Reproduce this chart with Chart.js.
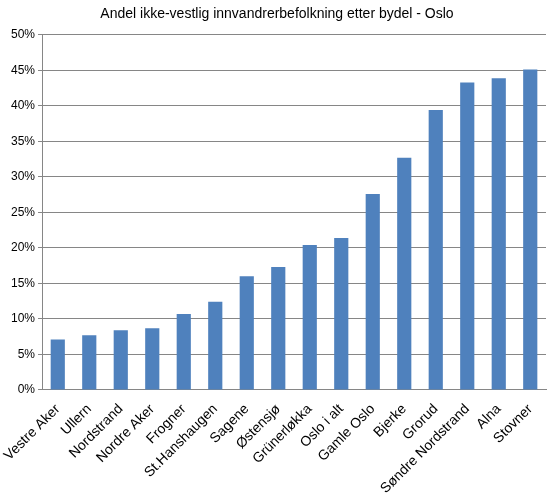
<!DOCTYPE html>
<html><head><meta charset="utf-8">
<script src="https://cdn.jsdelivr.net/npm/chart.js@4"></script>
<style>body{margin:0;background:#fff}#w{width:560px;height:500px}</style>
</head><body><div id="w"><canvas id="c"></canvas></div>
<script>
const categories = ["Vestre Aker","Ullern","Nordstrand","Nordre Aker","Frogner","St.Hanshaugen","Sagene","Østensjø","Grünerløkka","Oslo i alt","Gamle Oslo","Bjerke","Grorud","Søndre Nordstrand","Alna","Stovner"];
const values = [7.1,7.7,8.4,8.7,10.7,12.4,16.0,17.3,20.4,21.4,27.6,32.7,39.4,43.3,43.9,45.1];
const title = "Andel ikke-vestlig innvandrerbefolkning etter bydel - Oslo";
Chart.defaults.font.family = "'Liberation Sans', Arial, sans-serif";
Chart.defaults.color = "#000";
new Chart(document.getElementById('c'), {
  type: 'bar',
  data: { labels: categories, datasets: [{ data: values, backgroundColor: '#4f81bd', barPercentage: 0.45, categoryPercentage: 1 }] },
  options: {
    responsive: true, maintainAspectRatio: false, animation: false,
    layout: { padding: { top: 4, right: 14, left: 8, bottom: 0 } },
    plugins: { legend: { display: false }, title: { display: true, text: title, font: { size: 14, weight: 'normal' }, padding: { top: 2, bottom: 12 } } },
    scales: {
      y: { min: 0, max: 50, ticks: { stepSize: 5, callback: v => v + '%', font: { size: 12 } }, grid: { color: '#868686', drawTicks: true, tickLength: 4 }, border: { color: '#868686' } },
      x: { ticks: { maxRotation: 45, minRotation: 45, autoSkip: false, font: { size: 14 } }, grid: { display: false }, border: { color: '#868686' } }
    }
  }
});
</script></body></html>
